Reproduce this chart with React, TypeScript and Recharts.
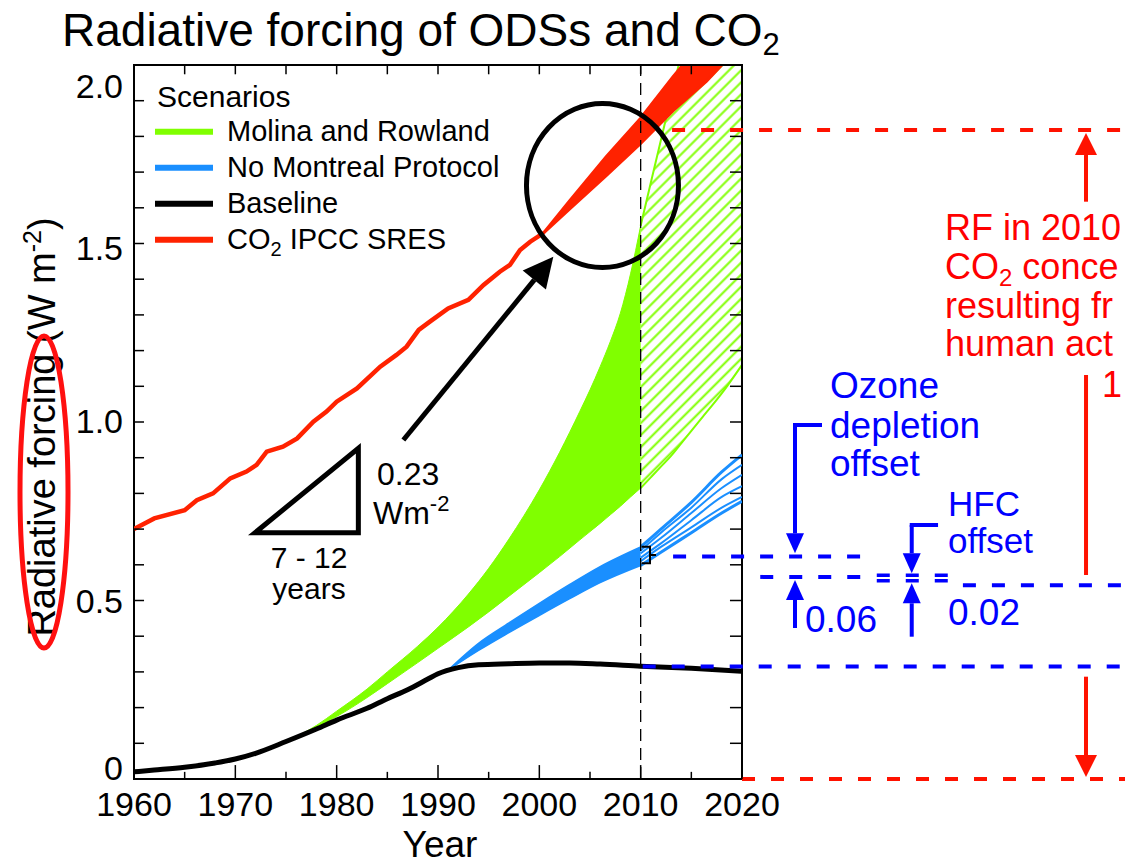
import React from "react"
import {
  ComposedChart,
  Line,
  Area,
  XAxis,
  YAxis,
  ReferenceLine,
  ReferenceDot,
  ReferenceArea,
} from "recharts"

const FONT = "'Liberation Sans', Arial, Helvetica, sans-serif"

const GREEN = "#80FF00"
const BLUE = "#1A8FFF"
const RED_CO2 = "#FF2200"
const ANNOT_BLUE = "#0000FF"
const ANNOT_RED = "#FF1200"

// axis ticks
const xMajorTicks = [1960, 1970, 1980, 1990, 2000, 2010, 2020]
const xMinorTicks = [1965, 1975, 1985, 1995, 2005, 2015]
const yLabelTicks = [0, 0.5, 1, 1.5, 2]
const yLabelText = ["0", "0.5", "1.0", "1.5", "2.0"]
const yAllTicks = [0, 0.1, 0.2, 0.3, 0.4, 0.5, 0.6, 0.7, 0.8, 0.9, 1, 1.1, 1.2, 1.3, 1.4, 1.5, 1.6, 1.7, 1.8, 1.9, 2]

// CO2 IPCC SRES (single line up to ~2000)
const co2Years = [1960, 1962, 1965, 1966.2, 1967.8, 1969.5, 1971.1, 1972.1, 1973.1, 1974.7, 1976.1, 1977.7, 1979, 1980, 1982, 1984.3, 1985.9, 1986.9, 1988.1, 1989.2, 1991, 1993, 1994.5, 1996.1, 1997.1, 1998.1, 1999.1, 2000.4]
const co2Values = [0.70, 0.73, 0.753, 0.781, 0.80, 0.842, 0.861, 0.88, 0.917, 0.931, 0.954, 1.001, 1.029, 1.057, 1.094, 1.155, 1.188, 1.211, 1.258, 1.281, 1.318, 1.342, 1.384, 1.421, 1.44, 1.482, 1.505, 1.529]

// CO2 scenario spread after 2000
const co2BandYears = [2000.4, 2003, 2006.6, 2010, 2013.2, 2016.5, 2020]
const co2BandLow = [1.529, 1.597, 1.69, 1.78, 1.872, 1.955, 2.06]
const co2BandHigh = [1.529, 1.62, 1.743, 1.851, 1.967, 2.08, 2.2]

// Baseline
const baseYears = [1960, 1962, 1965, 1968, 1970, 1972, 1975, 1978, 1980, 1983, 1985, 1987, 1989, 1990, 1992, 1994, 1997, 2000, 2003, 2006, 2010, 2015, 2020]
const baseValues = [0.02, 0.025, 0.033, 0.045, 0.056, 0.072, 0.105, 0.14, 0.165, 0.198, 0.225, 0.25, 0.28, 0.295, 0.312, 0.32, 0.323, 0.325, 0.325, 0.322, 0.316, 0.31, 0.302]

// Molina and Rowland (solid to 2010)
const greenYears = [1975, 1978, 1980, 1983, 1985, 1988, 1990, 1993, 1995, 1997, 2000, 2002, 2004, 2005, 2006, 2007, 2008, 2009, 2010]
const greenLow = [0.105, 0.145, 0.175, 0.228, 0.267, 0.326, 0.366, 0.426, 0.468, 0.512, 0.578, 0.623, 0.67, 0.693, 0.716, 0.74, 0.764, 0.79, 0.815]
const greenHigh = [0.105, 0.15, 0.19, 0.252, 0.3, 0.372, 0.425, 0.518, 0.59, 0.672, 0.81, 0.915, 1.03, 1.09, 1.155, 1.225, 1.305, 1.415, 1.55]

// Molina and Rowland (hatched after 2010)
const greenFutYears = [2010, 2011, 2012, 2013, 2014, 2016, 2018, 2020]
const greenFutLow = [0.815, 0.845, 0.875, 0.905, 0.94, 1.01, 1.08, 1.16]
const greenFutHigh = [1.55, 1.67, 1.79, 1.91, 2.03, 2.27, 2.5, 2.75]

// No Montreal Protocol (solid to 2010)
const blueYears = [1991, 1994, 1997, 2000, 2003, 2006, 2010]
const blueLow = [0.305, 0.36, 0.41, 0.458, 0.505, 0.55, 0.598]
const blueHigh = [0.305, 0.38, 0.437, 0.492, 0.545, 0.595, 0.65]

// No Montreal Protocol scenario lines after 2010
const blueFanYears = [2010, 2012, 2015, 2018, 2020]
const blueFan1 = [0.65, 0.70, 0.775, 0.86, 0.908]
const blueFan2 = [0.64, 0.69, 0.76, 0.84, 0.88]
const blueFan3 = [0.632, 0.675, 0.745, 0.815, 0.852]
const blueFan4 = [0.62, 0.66, 0.725, 0.79, 0.82]
const blueFan5 = [0.61, 0.65, 0.705, 0.76, 0.79]
const blueFan6 = [0.598, 0.635, 0.69, 0.745, 0.778]

// annotation levels (W m-2)
const rfCo2In2010 = 1.818
const baselineIn2010 = 0.315
const ozoneTop = 0.623
const ozoneBottom = 0.566
const hfcTop = 0.571
const hfcMid = 0.555
const hfcBottom = 0.543

const zip = (xs: number[], ys: number[]) => xs.map((x, i) => ({ year: x, v: ys[i] }))
const zipRange = (xs: number[], lo: number[], hi: number[]) =>
  xs.map((x, i) => ({ year: x, v: [lo[i], hi[i]] }))

const co2Data = zip(co2Years, co2Values)
const co2BandData = zipRange(co2BandYears, co2BandLow, co2BandHigh)
const baseData = zip(baseYears, baseValues)
const greenData = zipRange(greenYears, greenLow, greenHigh)
const greenFutData = zipRange(greenFutYears, greenFutLow, greenFutHigh)
const blueData = zipRange(blueYears, blueLow, blueHigh)
const blueFans = [blueFan1, blueFan2, blueFan3, blueFan4, blueFan5, blueFan6].map((f) => zip(blueFanYears, f))

const yLabelShift: Record<number, number> = { 0: 1, 0.5: 12, 1: 11, 1.5: 16, 2: 33 }

const renderXTick = (props: any) => {
  const { x, y, payload } = props
  return (
    <text x={x} y={y + 37} textAnchor="middle" fontSize={34} fontFamily={FONT} fill="#000">
      {payload.value}
    </text>
  )
}

const renderYTick = (props: any) => {
  const { x, y, payload } = props
  const idx = yLabelTicks.indexOf(payload.value)
  return (
    <text x={x - 11} y={y + (yLabelShift[payload.value] ?? 11)} textAnchor="end" fontSize={34} fontFamily={FONT} fill="#000">
      {yLabelText[idx]}
    </text>
  )
}

const arrowShape = (head: number, width: number) => (props: any) => {
  const { x1, y1, x2, y2, stroke, strokeWidth } = props
  const ang = Math.atan2(y2 - y1, x2 - x1)
  const bx = x2 - head * Math.cos(ang)
  const by = y2 - head * Math.sin(ang)
  const px = (-Math.sin(ang) * width) / 2
  const py = (Math.cos(ang) * width) / 2
  return (
    <g>
      <line x1={x1} y1={y1} x2={bx} y2={by} stroke={stroke} strokeWidth={strokeWidth} />
      <polygon points={`${x2},${y2} ${bx + px},${by + py} ${bx - px},${by - py}`} fill={stroke} />
    </g>
  )
}

const triangleShape = (props: any) => {
  const { x1, y1, x2, y2 } = props
  return (
    <polygon
      points={`${x1},${y1} ${x2},${y1} ${x2},${y2}`}
      fill="none"
      stroke="#000"
      strokeWidth={5}
      strokeLinejoin="miter"
    />
  )
}

const bracketShape = (props: any) => {
  const { x1, y1, x2, y2 } = props
  const ym = (y1 + y2) / 2
  return (
    <path
      d={`M${x1},${y1} H${x2} V${y2} H${x1} M${x2},${ym} h6`}
      fill="none"
      stroke="#000"
      strokeWidth={2}
    />
  )
}

const ellipseShape = (props: any) => (
  <ellipse cx={props.cx} cy={props.cy} rx={76} ry={82} fill="none" stroke="#000" strokeWidth={5} />
)

const TK_XMAJ = 0.039
const TK_XMIN = 0.02
const TK_Y = 0.99

const legendItems = [
  { label: "Molina and Rowland", color: GREEN },
  { label: "No Montreal Protocol", color: BLUE },
  { label: "Baseline", color: "#000" },
  { label: "CO2 IPCC SRES", color: RED_CO2 },
]

export default function App() {
  return (
    <div style={{ position: "absolute", left: 0, top: 0, width: 1125, height: 865, background: "#fff", overflow: "hidden" }}>
      <ComposedChart width={1125} height={865} margin={{ top: 65, right: 383, bottom: 0, left: 0 }}>
        <defs>
          <pattern id="greenHatch" patternUnits="userSpaceOnUse" width={10} height={8.5} patternTransform="rotate(-45)">
            <line x1={0} y1={4.25} x2={10} y2={4.25} stroke={GREEN} strokeWidth={2} />
          </pattern>
        </defs>
        <XAxis
          dataKey="year"
          type="number"
          domain={[1960, 2020]}
          allowDataOverflow
          ticks={xMajorTicks}
          interval={0}
          height={86}
          tickSize={0}
          tickMargin={0}
          axisLine={false}
          tickLine={false}
          tick={renderXTick}
        />
        <YAxis
          type="number"
          domain={[0, 2]}
          allowDataOverflow
          ticks={yLabelTicks}
          interval={0}
          width={134}
          tickSize={0}
          tickMargin={0}
          axisLine={false}
          tickLine={false}
          tick={renderYTick}
        />

        <Area data={greenData} dataKey="v" type="monotone" fill={GREEN} fillOpacity={1} stroke={GREEN} strokeWidth={1} isAnimationActive={false} />
        <Area data={greenFutData} dataKey="v" type="monotone" fill="url(#greenHatch)" fillOpacity={1} stroke={GREEN} strokeWidth={2} isAnimationActive={false} />
        <Area data={blueData} dataKey="v" type="monotone" fill={BLUE} fillOpacity={1} stroke={BLUE} strokeWidth={1.5} isAnimationActive={false} />
        {blueFans.map((d, i) => (
          <Line
            key={`fan-${i}`}
            data={d}
            dataKey="v"
            type="monotone"
            stroke={BLUE}
            strokeWidth={i === 0 || i === 5 ? 3 : 2}
            dot={false}
            activeDot={false}
            isAnimationActive={false}
          />
        ))}
        <Line data={baseData} dataKey="v" type="monotone" stroke="#000" strokeWidth={5} dot={false} activeDot={false} isAnimationActive={false} />
        <Line data={co2Data} dataKey="v" type="linear" stroke={RED_CO2} strokeWidth={4.5} dot={false} activeDot={false} isAnimationActive={false} />
        <Area data={co2BandData} dataKey="v" type="linear" fill={RED_CO2} fillOpacity={1} stroke={RED_CO2} strokeWidth={3} isAnimationActive={false} />

        <ReferenceLine x={2010} stroke="#000" strokeWidth={1.3} strokeDasharray="12 7" />

        {/* annotations inside the plot */}
        <ReferenceDot x={2006.23} y={1.6625} shape={ellipseShape} ifOverflow="visible" />
        <ReferenceLine segment={[{ x: 1986.58, y: 0.9496 }, { x: 2001.38, y: 1.463 }]} stroke="#000" strokeWidth={5} shape={arrowShape(30, 30)} ifOverflow="visible" />
        <ReferenceLine segment={[{ x: 1971.94, y: 0.6899 }, { x: 1982.14, y: 0.9263 }]} shape={triangleShape} ifOverflow="visible" />
        <ReferenceLine segment={[{ x: 2010.1, y: 0.6507 }, { x: 2010.92, y: 0.6042 }]} shape={bracketShape} ifOverflow="visible" />

        {/* reference levels extending right of the plot */}
        <ReferenceLine segment={[{ x: 2013.1, y: rfCo2In2010 }, { x: 2058, y: rfCo2In2010 }]} stroke={ANNOT_RED} strokeWidth={4} strokeDasharray="13 16" ifOverflow="visible" />
        <ReferenceLine segment={[{ x: 2020, y: 0 }, { x: 2058, y: 0 }]} stroke={ANNOT_RED} strokeWidth={4} strokeDasharray="13 16" ifOverflow="visible" />
        <ReferenceLine segment={[{ x: 2010.2, y: baselineIn2010 }, { x: 2058, y: baselineIn2010 }]} stroke={ANNOT_BLUE} strokeWidth={4} strokeDasharray="13 16" ifOverflow="visible" />
        <ReferenceLine segment={[{ x: 2013.2, y: ozoneTop }, { x: 2031.8, y: ozoneTop }]} stroke={ANNOT_BLUE} strokeWidth={4} strokeDasharray="13 16" ifOverflow="visible" />
        <ReferenceLine segment={[{ x: 2021.8, y: ozoneBottom }, { x: 2031.8, y: ozoneBottom }]} stroke={ANNOT_BLUE} strokeWidth={4} strokeDasharray="13 16" ifOverflow="visible" />
        <ReferenceLine segment={[{ x: 2033.3, y: hfcTop }, { x: 2040.5, y: hfcTop }]} stroke={ANNOT_BLUE} strokeWidth={3.5} strokeDasharray="13 16" ifOverflow="visible" />
        <ReferenceLine segment={[{ x: 2033.3, y: hfcMid }, { x: 2040.5, y: hfcMid }]} stroke={ANNOT_BLUE} strokeWidth={3.5} strokeDasharray="13 16" ifOverflow="visible" />
        <ReferenceLine segment={[{ x: 2041.8, y: hfcBottom }, { x: 2058, y: hfcBottom }]} stroke={ANNOT_BLUE} strokeWidth={4} strokeDasharray="13 16" ifOverflow="visible" />

        {/* ozone depletion offset arrows */}
        <ReferenceLine segment={[{ x: 2025.23, y: 0.9916 }, { x: 2027.7, y: 0.9916 }]} stroke={ANNOT_BLUE} strokeWidth={4} strokeLinecap="square" ifOverflow="visible" />
        <ReferenceLine segment={[{ x: 2025.23, y: 0.9916 }, { x: 2025.23, y: 0.6322 }]} stroke={ANNOT_BLUE} strokeWidth={4} shape={arrowShape(20, 18)} ifOverflow="visible" />
        <ReferenceLine segment={[{ x: 2025.23, y: 0.423 }, { x: 2025.23, y: 0.5574 }]} stroke={ANNOT_BLUE} strokeWidth={4} shape={arrowShape(20, 18)} ifOverflow="visible" />
        {/* HFC offset arrows */}
        <ReferenceLine segment={[{ x: 2036.75, y: 0.7115 }, { x: 2039.15, y: 0.7115 }]} stroke={ANNOT_BLUE} strokeWidth={4} strokeLinecap="square" ifOverflow="visible" />
        <ReferenceLine segment={[{ x: 2036.75, y: 0.7115 }, { x: 2036.75, y: 0.5762 }]} stroke={ANNOT_BLUE} strokeWidth={4} shape={arrowShape(20, 18)} ifOverflow="visible" />
        <ReferenceLine segment={[{ x: 2036.75, y: 0.3986 }, { x: 2036.75, y: 0.5482 }]} stroke={ANNOT_BLUE} strokeWidth={4} shape={arrowShape(20, 18)} ifOverflow="visible" />
        {/* CO2 RF arrows */}
        <ReferenceLine segment={[{ x: 2053.95, y: 1.6171 }, { x: 2053.95, y: 1.8095 }]} stroke={ANNOT_RED} strokeWidth={4} shape={arrowShape(22, 22)} ifOverflow="visible" />
        <ReferenceLine segment={[{ x: 2053.95, y: 1.1317 }, { x: 2053.95, y: 0.5714 }]} stroke={ANNOT_RED} strokeWidth={4} ifOverflow="visible" />
        <ReferenceLine segment={[{ x: 2053.95, y: 0.2866 }, { x: 2053.95, y: 0.0056 }]} stroke={ANNOT_RED} strokeWidth={4} shape={arrowShape(22, 22)} ifOverflow="visible" />

        {/* frame and inward ticks */}
        <ReferenceArea x1={1960} x2={2020} y1={0} y2={2} fill="none" stroke="#000" strokeWidth={2} ifOverflow="visible" />
        {xMajorTicks.map((t) => (
          <ReferenceLine key={`xb-${t}`} segment={[{ x: t, y: 0 }, { x: t, y: TK_XMAJ }]} stroke="#000" strokeWidth={1.5} ifOverflow="visible" />
        ))}
        {xMinorTicks.map((t) => (
          <ReferenceLine key={`xbm-${t}`} segment={[{ x: t, y: 0 }, { x: t, y: TK_XMIN }]} stroke="#000" strokeWidth={1.5} ifOverflow="visible" />
        ))}
        {xMajorTicks.concat(xMinorTicks).map((t) => (
          <ReferenceLine key={`xt-${t}`} segment={[{ x: t, y: 2 }, { x: t, y: 2 - 0.026 }]} stroke="#000" strokeWidth={1.5} ifOverflow="visible" />
        ))}
        {yAllTicks.map((t) => (
          <ReferenceLine key={`yl-${t}`} segment={[{ x: 1960, y: t }, { x: 1960 + TK_Y, y: t }]} stroke="#000" strokeWidth={1.5} ifOverflow="visible" />
        ))}
        {yAllTicks.map((t) => (
          <ReferenceLine key={`yr-${t}`} segment={[{ x: 2020 - TK_Y * 1.2, y: t }, { x: 2020, y: t }]} stroke="#000" strokeWidth={1.5} ifOverflow="visible" />
        ))}
      </ComposedChart>

      <svg
        width={1125}
        height={865}
        style={{ position: "absolute", left: 0, top: 0, pointerEvents: "none" }}
        fontFamily={FONT}
      >
        <text x={62} y={46} fontSize={46} fill="#000">
          Radiative forcing of ODSs and CO<tspan fontSize={31} dy={9}>2</tspan>
        </text>

        <text x={440} y={857} fontSize={37} textAnchor="middle" fill="#000">Year</text>

        <text transform="translate(55,427) rotate(-90)" textAnchor="middle" fontSize={38} fill="#000">
          Radiative forcing (W m<tspan dy={-14} fontSize={25}>-2</tspan>
          <tspan dy={14}>)</tspan>
        </text>
        <ellipse cx={44} cy={492} rx={24} ry={156} fill="none" stroke="#FF1010" strokeWidth={5} />

        {/* legend */}
        <text x={157} y={107} fontSize={30} fill="#000">Scenarios</text>
        {legendItems.map((item, i) => {
          const ly = 131.7 + i * 36
          return (
            <g key={item.label}>
              <line x1={155} y1={ly} x2={213} y2={ly} stroke={item.color} strokeWidth={6} />
              <text x={227} y={ly + 9} fontSize={29} fill="#000">
                {item.label === "CO2 IPCC SRES" ? (
                  <>
                    CO<tspan fontSize={20} dy={7}>2</tspan>
                    <tspan dy={-7}> IPCC SRES</tspan>
                  </>
                ) : (
                  item.label
                )}
              </text>
            </g>
          )
        })}

        {/* triangle labels */}
        <text x={377} y={485} fontSize={32} fill="#000">0.23</text>
        <text x={373} y={524} fontSize={32} fill="#000">
          Wm<tspan dy={-13} fontSize={22}>-2</tspan>
        </text>
        <text x={309} y={568} fontSize={30} textAnchor="middle" fill="#000">7 - 12</text>
        <text x={309} y={599} fontSize={30} textAnchor="middle" fill="#000">years</text>

        {/* blue annotations */}
        <g fill={ANNOT_BLUE} fontSize={37}>
          <text x={830} y={398}>Ozone</text>
          <text x={830} y={438}>depletion</text>
          <text x={830} y={476}>offset</text>
          <text x={948} y={516} fontSize={35}>HFC</text>
          <text x={948} y={553} fontSize={35}>offset</text>
          <text x={805} y={632}>0.06</text>
          <text x={948} y={625}>0.02</text>
        </g>

        {/* red annotations */}
        <g fill="#FF0000" fontSize={36}>
          <text x={945} y={240}>RF in 2010</text>
          <text x={945} y={279}>
            CO<tspan fontSize={24} dy={7}>2</tspan>
            <tspan dy={-7}> conce</tspan>
          </text>
          <text x={945} y={318}>resulting fr</text>
          <text x={945} y={356}>human act</text>
          <text x={1102} y={397}>1</text>
        </g>
      </svg>
    </div>
  )
}
